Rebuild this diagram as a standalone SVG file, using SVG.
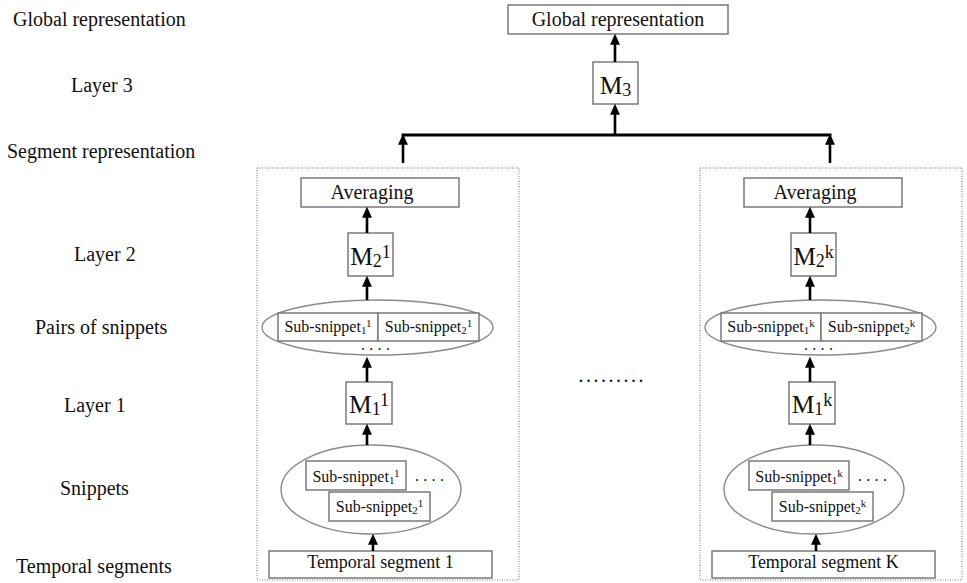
<svg xmlns="http://www.w3.org/2000/svg" width="967" height="583" viewBox="0 0 967 583">
<style>
text{font-family:"Liberation Serif","Times New Roman",serif;fill:#111}
.lbl{font-size:20px}
.box{fill:#fff;stroke:#7a7a7a;stroke-width:1.5}
.ell{fill:#fff;stroke:#8a8a8a;stroke-width:1.4}
.dot{fill:none;stroke:#7a7a7a;stroke-width:1;stroke-dasharray:1 1.5}
.m{font-size:25.5px}
.ms{font-size:18px}
.ss{font-size:16px}
.sm{font-size:11px}
.arr{stroke:#000;stroke-width:2.6;fill:none;marker-end:url(#ah)}
.hl{stroke:#000;stroke-width:3;fill:none}
</style>
<defs>
<marker id="ah" viewBox="0 0 10 10" refX="2" refY="5" markerWidth="11" markerHeight="11" markerUnits="userSpaceOnUse" orient="auto">
<path d="M0,0.5 L10,5 L0,9.5 z" fill="#000"/>
</marker>
</defs>

<g id="labels" class="lbl">
<text x="13" y="26">Global representation</text>
<text x="71" y="92">Layer 3</text>
<text x="7" y="158">Segment representation</text>
<text x="74" y="261">Layer 2</text>
<text x="35" y="334">Pairs of snippets</text>
<text x="64" y="412">Layer 1</text>
<text x="60" y="495">Snippets</text>
<text x="16" y="573">Temporal segments</text>
</g>

<g id="global">
<rect class="box" x="508" y="5" width="220" height="29"/>
<text class="lbl" x="618" y="26" text-anchor="middle">Global representation</text>
</g>
<g id="m3">
<rect class="box" x="593" y="62" width="45" height="42"/>
<text class="m" x="615.5" y="94" text-anchor="middle">M<tspan class="ms" dy="2">3</tspan></text>
</g>

<g id="segment1">
<rect class="dot" x="257" y="168" width="262" height="412"/>
</g>
<g id="avg1">
<rect class="box" x="301" y="178" width="158" height="29"/>
<text class="lbl" x="372" y="199" text-anchor="middle">Averaging</text>
</g>
<g id="m2-1">
<rect class="box" x="348" y="233" width="45" height="43"/>
<text class="m" x="370.5" y="265" text-anchor="middle">M<tspan class="ms" dy="2">2</tspan><tspan class="ms" dy="-9">1</tspan></text>
</g>
<g id="pairs1">
<ellipse class="ell" cx="377.5" cy="327.5" rx="115.5" ry="27.5"/>
<rect class="box" x="278" y="313" width="100" height="28"/>
<rect class="box" x="378" y="313" width="101" height="28"/>
<text class="ss" x="328" y="332" text-anchor="middle">Sub-snippet<tspan class="sm" dy="2">1</tspan><tspan class="sm" dy="-7">1</tspan></text>
<text class="ss" x="428.5" y="332" text-anchor="middle">Sub-snippet<tspan class="sm" dy="2">2</tspan><tspan class="sm" dy="-7">1</tspan></text>
<text class="ss" x="361" y="350" letter-spacing="4.3">....</text>
</g>
<g id="m1-1">
<rect class="box" x="346" y="382" width="46" height="42"/>
<text class="m" x="369" y="413" text-anchor="middle">M<tspan class="ms" dy="2">1</tspan><tspan class="ms" dy="-9">1</tspan></text>
</g>
<g id="snippets1">
<ellipse class="ell" cx="371" cy="489.5" rx="90" ry="44.5"/>
<rect class="box" x="306" y="461" width="100" height="29"/>
<text class="ss" x="356" y="482" text-anchor="middle">Sub-snippet<tspan class="sm" dy="2">1</tspan><tspan class="sm" dy="-7">1</tspan></text>
<text class="ss" x="415" y="481" letter-spacing="4.3">....</text>
<rect class="box" x="329" y="492" width="101" height="29"/>
<text class="ss" x="379.5" y="512" text-anchor="middle">Sub-snippet<tspan class="sm" dy="2">2</tspan><tspan class="sm" dy="-7">1</tspan></text>
</g>
<g id="temporal1">
<rect class="box" x="269" y="551" width="223" height="27"/>
<text x="380.5" y="568" font-size="18" text-anchor="middle">Temporal segment 1</text>
</g>

<g id="segmentK">
<rect class="dot" x="700" y="168" width="262" height="412"/>
</g>
<g id="avgK">
<rect class="box" x="744" y="178" width="158" height="29"/>
<text class="lbl" x="815" y="199" text-anchor="middle">Averaging</text>
</g>
<g id="m2-k">
<rect class="box" x="791" y="233" width="45" height="43"/>
<text class="m" x="813.5" y="265" text-anchor="middle">M<tspan class="ms" dy="2">2</tspan><tspan class="ms" dy="-9">k</tspan></text>
</g>
<g id="pairsK">
<ellipse class="ell" cx="820.5" cy="327.5" rx="115.5" ry="27.5"/>
<rect class="box" x="721" y="313" width="100" height="28"/>
<rect class="box" x="821" y="313" width="101" height="28"/>
<text class="ss" x="771" y="332" text-anchor="middle">Sub-snippet<tspan class="sm" dy="2">1</tspan><tspan class="sm" dy="-7">k</tspan></text>
<text class="ss" x="871.5" y="332" text-anchor="middle">Sub-snippet<tspan class="sm" dy="2">2</tspan><tspan class="sm" dy="-7">k</tspan></text>
<text class="ss" x="804" y="350" letter-spacing="4.3">....</text>
</g>
<g id="m1-k">
<rect class="box" x="789" y="382" width="46" height="42"/>
<text class="m" x="812" y="413" text-anchor="middle">M<tspan class="ms" dy="2">1</tspan><tspan class="ms" dy="-9">k</tspan></text>
</g>
<g id="snippetsK">
<ellipse class="ell" cx="814" cy="489.5" rx="90" ry="44.5"/>
<rect class="box" x="749" y="461" width="100" height="29"/>
<text class="ss" x="799" y="482" text-anchor="middle">Sub-snippet<tspan class="sm" dy="2">1</tspan><tspan class="sm" dy="-7">k</tspan></text>
<text class="ss" x="858" y="481" letter-spacing="4.3">....</text>
<rect class="box" x="772" y="492" width="101" height="29"/>
<text class="ss" x="822.5" y="512" text-anchor="middle">Sub-snippet<tspan class="sm" dy="2">2</tspan><tspan class="sm" dy="-7">k</tspan></text>
</g>
<g id="temporalK">
<rect class="box" x="712" y="551" width="223" height="27"/>
<text x="823.5" y="568" font-size="18" text-anchor="middle">Temporal segment K</text>
</g>

<g id="ellipsis">
<text class="lbl" x="578.5" y="381.5" letter-spacing="2.5">.........</text>
</g>

<g id="connectors">
<line class="arr" x1="615" y1="62" x2="615" y2="42.5"/>
<line class="arr" x1="615" y1="134" x2="615" y2="112.5"/>
<line class="hl" x1="401.5" y1="135" x2="831.5" y2="135"/>
<line class="arr" x1="403" y1="163" x2="403" y2="142.5"/>
<line class="arr" x1="830" y1="163" x2="830" y2="142.5"/>
<line class="arr" x1="367" y1="233" x2="367" y2="215.5"/>
<line class="arr" x1="367" y1="300" x2="367" y2="284.5"/>
<line class="arr" x1="367" y1="382" x2="367" y2="365.5"/>
<line class="arr" x1="367" y1="445" x2="367" y2="432.5"/>
<line class="arr" x1="373" y1="551" x2="373" y2="542.5"/>
<line class="arr" x1="810" y1="233" x2="810" y2="215.5"/>
<line class="arr" x1="810" y1="300" x2="810" y2="284.5"/>
<line class="arr" x1="810" y1="382" x2="810" y2="365.5"/>
<line class="arr" x1="810" y1="445" x2="810" y2="432.5"/>
<line class="arr" x1="816" y1="551" x2="816" y2="542.5"/>
</g>
</svg>
